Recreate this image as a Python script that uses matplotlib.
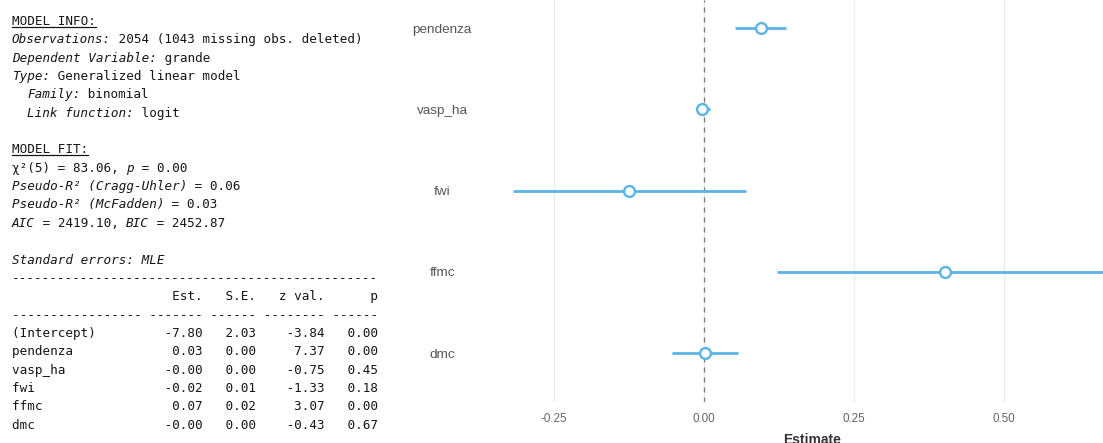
'''
Coefficient plot next to the R summ() console output of a logit model.
'''

import matplotlib.pyplot as plt
from matplotlib.lines import Line2D

# coefficient plot values
terms = ['pendenza', 'vasp_ha', 'fwi', 'ffmc', 'dmc']
estimate = [0.095, -0.003, -0.124, 0.402, 0.002]
conf_lo = [0.052, -0.013, -0.317, 0.123, -0.053]
conf_hi = [0.138, 0.010, 0.070, 0.681, 0.058]
xticks = [-0.25, 0.00, 0.25, 0.50]

# console table values
tab_names = ['(Intercept)', 'pendenza', 'vasp_ha', 'fwi', 'ffmc', 'dmc']
tab_est = ['-7.80', '0.03', '-0.00', '-0.02', '0.07', '-0.00']
tab_se = ['2.03', '0.00', '0.00', '0.01', '0.02', '0.00']
tab_z = ['-3.84', '7.37', '-0.75', '-1.33', '3.07', '-0.43']
tab_p = ['0.00', '0.00', '0.45', '0.18', '0.00', '0.67']

W, H = 1103, 443
BLUE = '#5ab4e5'

fig = plt.figure(figsize=(W / 100, H / 100), dpi=100)


def fx(x):
    return x / W


def fy(y):
    return 1 - y / H


# ---- left: console text ----
I, N, U = 'italic', 'normal', 'underline'
lines = [
    [('MODEL INFO:', U)],
    [('Observations:', I), (' 2054 (1043 missing obs. deleted)', N)],
    [('Dependent Variable:', I), (' grande', N)],
    [('Type:', I), (' Generalized linear model', N)],
    [('  ', N), ('Family:', I), (' binomial', N)],
    [('  ', N), ('Link function:', I), (' logit', N)],
    [],
    [('MODEL FIT:', U)],
    [('\u03c7\u00b2(5) = 83.06, ', N), ('p', I), (' = 0.00', N)],
    [('Pseudo-R\u00b2 (Cragg-Uhler)', I), (' = 0.06', N)],
    [('Pseudo-R\u00b2 (McFadden)', I), (' = 0.03', N)],
    [('AIC', I), (' = 2419.10, ', N), ('BIC', I), (' = 2452.87', N)],
    [],
    [('Standard errors: MLE', I)],
    [('-' * 48, N)],
    [('{:<17} {:>7} {:>6} {:>8} {:>6}'.format('', 'Est.', 'S.E.', 'z val.', 'p'), N)],
    [(' '.join(['-' * 17, '-' * 7, '-' * 6, '-' * 8, '-' * 6]), N)],
]
for r in range(len(tab_names)):
    row = '{:<17} {:>7} {:>6} {:>8} {:>6}'.format(
        tab_names[r], tab_est[r], tab_se[r], tab_z[r], tab_p[r])
    lines.append([(row, N)])
lines.append([('-' * 48, N)])

fs = 9.1
cw = 0.602 * fs * 100 / 72  # px per character
x0, y0, dy = 12, 20, 18.35
tcol = '#151515'

for i, segs in enumerate(lines):
    y = y0 + dy * i
    col = 0
    for s, st in segs:
        fig.text(fx(x0 + col * cw), fy(y), s, fontsize=fs, color=tcol,
                 family='DejaVu Sans Mono',
                 style='italic' if st == I else 'normal',
                 ha='left', va='center_baseline')
        if st == U:
            fig.add_artist(Line2D([fx(x0), fx(x0 + len(s) * cw)],
                                  [fy(y + 7), fy(y + 7)],
                                  color=tcol, lw=0.9))
        col += len(s)

# ---- right: coefficient plot ----
ax_left, ax_bottom = 490, 402
ax = fig.add_axes([fx(ax_left), fy(ax_bottom), fx(W - ax_left), ax_bottom / H])

ypos = list(range(len(terms), 0, -1))
for t, e, lo, hi, yv in zip(terms, estimate, conf_lo, conf_hi, ypos):
    ax.plot([lo, hi], [yv, yv], color=BLUE, lw=2.0, solid_capstyle='butt', zorder=3)
    ax.plot([e], [yv], 'o', ms=7.8, mfc='white', mec=BLUE, mew=1.7, zorder=4)

ax.axvline(0, color='#7a7a7a', lw=0.9, ls=(0, (4, 4)), zorder=2)
ax.set_xlim((ax_left - 703.5) / 600, (W - 703.5) / 600)
ax.set_ylim(1 - (ax_bottom - 353) / 81.25, 5 + 28 / 81.25)

ax.set_xticks(xticks)
ax.set_xticklabels(['%.2f' % v for v in xticks])
ax.set_yticks(ypos)
ax.set_yticklabels(terms)
ax.grid(axis='x', color='#ebebeb', lw=1, zorder=0)
ax.grid(axis='y', visible=False)
for sp in ax.spines.values():
    sp.set_visible(False)

ax.tick_params(axis='x', length=0, pad=8, labelsize=8.4, labelcolor='#666666')
ax.tick_params(axis='y', length=0, pad=(ax_left - 442) * 0.72, labelsize=9.7,
               labelcolor='#555555')
for lab in ax.get_yticklabels():
    lab.set_horizontalalignment('center')
    lab.set_family('Liberation Sans')
for lab in ax.get_xticklabels():
    lab.set_family('Liberation Sans')

ax.set_xlabel('Estimate', fontsize=10, fontweight='bold', color='#333333',
              family='Liberation Sans')
ax.xaxis.set_label_coords((812 - ax_left) / (W - ax_left), -(440 - ax_bottom) / ax_bottom)
ax.xaxis.label.set_va('center')

fig.savefig('out.png', dpi=100)
